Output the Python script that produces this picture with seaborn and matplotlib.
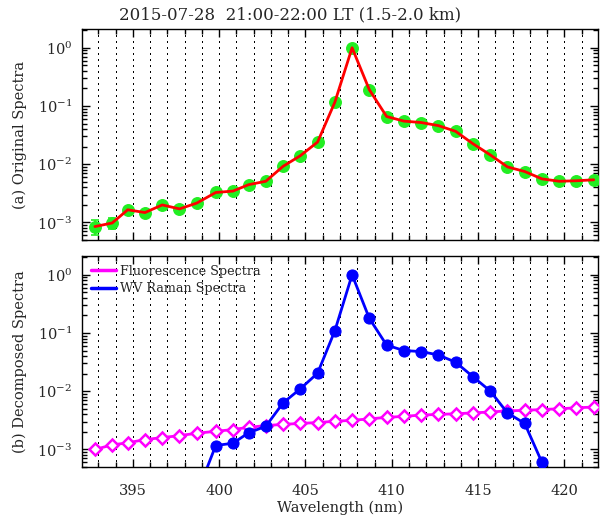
import numpy as np
import pandas as pd
import matplotlib
matplotlib.use("Agg")
import matplotlib.pyplot as plt
import seaborn as sns
from matplotlib.ticker import MultipleLocator, LogLocator, NullFormatter
from matplotlib.lines import Line2D

# ---- data ----
wavelength = [392.8, 393.8, 394.7, 395.7, 396.7, 397.7, 398.7, 399.8, 400.8, 401.7,
              402.7, 403.7, 404.7, 405.7, 406.7, 407.7, 408.7, 409.7, 410.7, 411.7,
              412.7, 413.7, 414.7, 415.7, 416.7, 417.7, 418.7, 419.7, 420.7, 421.7]

original = [8.5e-4, 9.8e-4, 1.65e-3, 1.48e-3, 2.0e-3, 1.71e-3, 2.15e-3, 3.27e-3, 3.46e-3, 4.45e-3,
            5.1e-3, 9.2e-3, 1.4e-2, 2.4e-2, 0.116, 1.0, 0.19, 0.066, 0.055, 0.052,
            0.046, 0.0367, 0.0225, 0.0145, 0.0090, 0.0075, 0.0056, 0.0051, 0.0052, 0.0054]

original_err = [2.5e-4, 2.0e-4, 1.2e-4, 1.1e-4, 1.2e-4, 1.1e-4, 1.2e-4, 1.3e-4, 1.3e-4, 1.5e-4,
                1.6e-4, 2.0e-4, 2.5e-4, 3.0e-4, 1.0e-3, 5.0e-3, 1.5e-3, 6.0e-4, 5.0e-4, 5.0e-4,
                4.0e-4, 3.5e-4, 3.0e-4, 2.5e-4, 2.0e-4, 1.8e-4, 1.6e-4, 1.5e-4, 1.5e-4, 1.5e-4]

fluorescence = [1.0e-3, 1.2e-3, 1.3e-3, 1.48e-3, 1.6e-3, 1.73e-3, 1.9e-3, 2.05e-3, 2.2e-3, 2.4e-3,
                2.57e-3, 2.7e-3, 2.8e-3, 2.9e-3, 3.05e-3, 3.17e-3, 3.35e-3, 3.56e-3, 3.7e-3, 3.9e-3,
                4.0e-3, 4.1e-3, 4.25e-3, 4.4e-3, 4.6e-3, 4.7e-3, 4.85e-3, 5.0e-3, 5.2e-3, 5.35e-3]

nan = np.nan
raman = [nan, nan, nan, nan, nan, nan, 1.7e-4, 1.17e-3, 1.28e-3, 1.93e-3,
         2.5e-3, 6.3e-3, 1.1e-2, 2.04e-2, 0.109, 1.0, 0.178, 0.062, 0.050, 0.048,
         0.042, 0.0315, 0.0178, 0.0101, 4.25e-3, 2.8e-3, 6.0e-4, nan, nan, nan]

title = "2015-07-28  21:00-22:00 LT (1.5-2.0 km)"
ylabel_top = "(a) Original Spectra"
ylabel_bottom = "(b) Decomposed Spectra"
xlabel = "Wavelength (nm)"
legend_labels = ["Fluorescence Spectra", "WV Raman Spectra"]

df = pd.DataFrame({"wavelength": wavelength, "original": original, "err": original_err,
                   "fluorescence": fluorescence, "raman": raman})

# ---- style ----
sns.set_style("ticks")
plt.rcParams["font.family"] = ["DejaVu Serif"]
plt.rcParams["mathtext.fontset"] = "dejavuserif"

GREEN = "#22ee22"
RED = "#ff0000"
BLUE = "#0000ff"
MAGENTA = "#ff00ff"

fig = plt.figure(figsize=(6.05, 5.15), dpi=100)
ax1 = fig.add_axes([0.1355, 0.534, 0.853, 0.4097])
ax2 = fig.add_axes([0.1355, 0.0932, 0.853, 0.4097])

for ax in (ax1, ax2):
    ax.set_yscale("log")

# top panel
ax1.errorbar(df["wavelength"], df["original"], yerr=df["err"], fmt="o", color=GREEN,
             ms=8.3, capsize=3, elinewidth=1.2, capthick=1.2, zorder=3)
sns.lineplot(data=df, x="wavelength", y="original", ax=ax1, color=RED, lw=2.0,
             zorder=4, legend=False)

# bottom panel
sns.lineplot(data=df, x="wavelength", y="fluorescence", ax=ax2, color=MAGENTA, lw=2.0,
             marker="D", ms=6.5, mfc="white", mec=MAGENTA, mew=1.8, zorder=3, legend=False)
rdf = df.dropna(subset=["raman"])
sns.lineplot(data=rdf, x="wavelength", y="raman", ax=ax2, color=BLUE, lw=2.0,
             marker="o", ms=8, mfc=BLUE, mec=BLUE, zorder=4, legend=False)

for ax in (ax1, ax2):
    ax.set_xlim(392.05, 421.95)
    ax.set_ylim(5e-4, 2.1)
    ax.xaxis.set_major_locator(MultipleLocator(5))
    ax.xaxis.set_minor_locator(MultipleLocator(1))
    ax.yaxis.set_major_locator(LogLocator(base=10))
    ax.yaxis.set_minor_locator(LogLocator(base=10, subs=np.arange(2, 10)))
    ax.yaxis.set_minor_formatter(NullFormatter())
    ax.tick_params(which="both", direction="in", top=True, right=True, width=1.0,
                   color="black")
    ax.tick_params(which="major", length=6)
    ax.tick_params(which="minor", length=3.5)
    ax.tick_params(axis="y", which="major", labelsize=10.5, pad=7)
    ax.tick_params(axis="x", which="major", labelsize=10.5, pad=12)
    ax.grid(True, which="both", axis="x", color="black", linestyle=(0, (1.0, 3.0)),
            linewidth=1.0)
    for t in ax.xaxis.get_major_ticks() + ax.xaxis.get_minor_ticks():
        t.gridline.set_antialiased(False)
    for s in ax.spines.values():
        s.set_linewidth(1.0)
        s.set_color("black")
    ax.set_xlabel("")

ax1.tick_params(axis="x", labelbottom=False)
ax1.set_ylabel(ylabel_top, fontsize=10.5)
ax2.set_ylabel(ylabel_bottom, fontsize=10.5)
ax1.yaxis.set_label_coords(-0.107, 0.5)
ax2.yaxis.set_label_coords(-0.107, 0.5)
ax2.set_xlabel(xlabel, fontsize=10.5, labelpad=2)

handles = [Line2D([], [], color=MAGENTA, lw=2.5), Line2D([], [], color=BLUE, lw=2.5)]
ax2.legend(handles, legend_labels, loc="upper left", frameon=False, fontsize=9.2,
           handlelength=2.0, handletextpad=0.3, borderaxespad=0.3, labelspacing=0.35)

fig.text(0.48, 0.971, title, ha="center", va="center", fontsize=12)

fig.savefig("out.png", dpi=100)
